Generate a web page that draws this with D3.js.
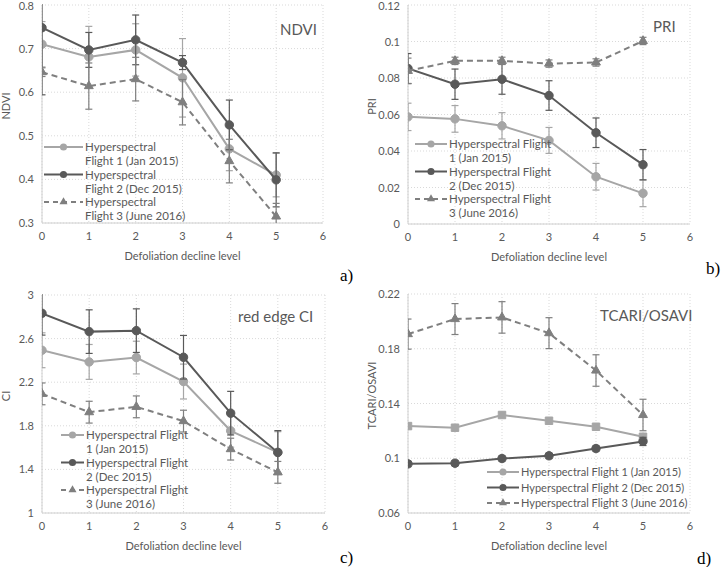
<!DOCTYPE html>
<html>
<head>
<meta charset="utf-8">
<script src="https://cdn.jsdelivr.net/npm/d3@7"></script>
<style>
  body { margin: 0; background: #fff; }
  svg text { font-family: Lato, "Open Sans", sans-serif; fill: #595959; }
</style>
</head>
<body>
<svg id="chart" width="721" height="567"></svg>
<script>
// defoliation levels on the x axis
var levels = [0, 1, 2, 3, 4, 5];
var xTicks = [0, 1, 2, 3, 4, 5, 6];

// a) NDVI
var ndviF1 = [0.710, 0.681, 0.697, 0.633, 0.470, 0.410];
var ndviF1Err = [0.052, 0.070, 0.060, 0.090, 0.050, 0.050];
var ndviF2 = [0.748, 0.697, 0.720, 0.668, 0.525, 0.399];
var ndviF2Err = [0.154, 0.040, 0.057, 0.016, 0.057, 0.062];
var ndviF3 = [0.646, 0.614, 0.630, 0.577, 0.442, 0.315];
var ndviF3Err = [0.010, 0.053, 0.050, 0.052, 0.050, 0.030];

// b) PRI
var priF1 = [0.0587, 0.0576, 0.0538, 0.0458, 0.0259, 0.0168];
var priF1Err = [0.0075, 0.0073, 0.0072, 0.0071, 0.0073, 0.0073];
var priF2 = [0.0852, 0.0766, 0.0793, 0.0704, 0.0500, 0.0325];
var priF2Err = [0.0082, 0.0083, 0.0082, 0.0081, 0.0081, 0.0083];
var priF3 = [0.0839, 0.0894, 0.0894, 0.0879, 0.0885, 0.1003];
var priF3Err = [0.0070, 0.0020, 0.0020, 0.0020, 0.0020, 0.0020];

// c) red edge CI
var ciF1 = [2.493, 2.386, 2.426, 2.206, 1.754, 1.556];
var ciF1Err = [0.160, 0.160, 0.150, 0.160, 0.150, 0.190];
var ciF2 = [2.832, 2.664, 2.673, 2.429, 1.916, 1.556];
var ciF2Err = [0.200, 0.200, 0.200, 0.200, 0.200, 0.200];
var ciF3 = [2.093, 1.925, 1.974, 1.843, 1.586, 1.373];
var ciF3Err = [0.100, 0.100, 0.100, 0.100, 0.100, 0.100];

// d) TCARI/OSAVI
var tcF1 = [0.1235, 0.1223, 0.1316, 0.1274, 0.1230, 0.1157];
var tcF1Err = [0.0020, 0.0020, 0.0020, 0.0020, 0.0020, 0.0020];
var tcF2 = [0.0959, 0.0964, 0.0998, 0.1018, 0.1071, 0.1123];
var tcF2Err = [0.0020, 0.0020, 0.0020, 0.0020, 0.0020, 0.0030];
var tcF3 = [0.1907, 0.2017, 0.2029, 0.1914, 0.1641, 0.1316];
var tcF3Err = [0.0110, 0.0113, 0.0115, 0.0113, 0.0115, 0.0115];

// series look
var seriesStyle = [
  {color: "#a6a6a6", dash: null, marker: "circle"},
  {color: "#595959", dash: null, marker: "circle"},
  {color: "#7f7f7f", dash: "6,4", marker: "triangle"}
];

var svg = d3.select("#chart");

function drawPanel(p) {
  var g = svg.append("g");
  var x = d3.scaleLinear().domain([0, 6]).range([p.left, p.right]);
  var y = d3.scaleLinear().domain(p.yDomain).range([p.bottom, p.top]);

  // dotted grid
  g.selectAll(".hgrid").data(p.yTicks).enter().append("line")
    .attr("x1", p.left).attr("x2", p.right)
    .attr("y1", d => y(d)).attr("y2", d => y(d))
    .style("stroke", "#d9d9d9").style("stroke-dasharray", "1,2");
  g.selectAll(".vgrid").data(xTicks).enter().append("line")
    .attr("y1", p.top).attr("y2", p.bottom)
    .attr("x1", d => x(d)).attr("x2", d => x(d))
    .style("stroke", "#d9d9d9").style("stroke-dasharray", "1,2");

  // axis lines
  g.append("line").attr("x1", p.left).attr("x2", p.left)
    .attr("y1", p.top).attr("y2", p.bottom).style("stroke", "#d0d0d0");
  g.append("line").attr("x1", p.left).attr("x2", p.right)
    .attr("y1", p.bottom).attr("y2", p.bottom).style("stroke", "#d0d0d0");

  // tick labels
  var fmt = d => String(+d.toFixed(3));
  g.selectAll(".ylab").data(p.yTicks).enter().append("text")
    .attr("x", p.left - 8).attr("y", d => Math.max(y(d) + 4, 10))
    .attr("text-anchor", "end").style("font-size", "11px")
    .text(fmt);
  g.selectAll(".xlab").data(xTicks).enter().append("text")
    .attr("x", d => x(d)).attr("y", p.bottom + 17)
    .attr("text-anchor", "middle").style("font-size", "11px")
    .text(d => d);

  // axis titles
  g.append("text")
    .attr("x", (p.left + p.right) / 2).attr("y", p.bottom + 37)
    .attr("text-anchor", "middle").style("font-size", "11px")
    .text("Defoliation decline level");
  g.append("text")
    .attr("transform", "translate(" + (p.left - 32) + "," + ((p.top + p.bottom) / 2 - 8) + ") rotate(-90)")
    .attr("text-anchor", "middle").style("font-size", "11px")
    .text(p.yTitle);

  // chart title inside plot
  g.append("text")
    .attr("x", p.titleX).attr("y", p.titleY)
    .style("font-size", "15px")
    .text(p.title);

  // panel letter
  g.append("text")
    .attr("x", p.letterX).attr("y", p.letterY)
    .style("font-family", "'Liberation Serif', serif").style("fill", "#000")
    .style("font-size", "17px")
    .text(p.letter);

  var clipId = "clip-" + p.letter.replace(")", "");
  svg.append("defs").append("clipPath").attr("id", clipId)
    .append("rect").attr("x", p.left).attr("y", p.top - 1)
    .attr("width", p.right - p.left).attr("height", p.bottom - p.top + 1);
  var plot = g.append("g").attr("clip-path", "url(#" + clipId + ")");

  var line = d3.line().x((d, i) => x(levels[i])).y(d => y(d));

  p.series.forEach(function(s, k) {
    var st = seriesStyle[k];
    // error bars
    s.values.forEach(function(v, i) {
      var cx = x(levels[i]);
      var e = s.err[i];
      plot.append("line").attr("x1", cx).attr("x2", cx)
        .attr("y1", y(v - e)).attr("y2", y(v + e))
        .style("stroke", st.color).style("stroke-width", 1.2);
      [v - e, v + e].forEach(function(c) {
        plot.append("line").attr("x1", cx - 3.5).attr("x2", cx + 3.5)
          .attr("y1", y(c)).attr("y2", y(c))
          .style("stroke", st.color).style("stroke-width", 1.2);
      });
    });
    plot.append("path").datum(s.values)
      .attr("d", line)
      .style("fill", "none").style("stroke", st.color)
      .style("stroke-width", 2)
      .style("stroke-dasharray", st.dash);
    var shape = (k === 0 && p.squareF1) ? d3.symbolSquare :
      (st.marker === "triangle" ? d3.symbolTriangle : d3.symbolCircle);
    var size = st.marker === "triangle" ? 34 : 56;
    plot.selectAll(".m" + k).data(s.values).enter().append("path")
      .attr("d", d3.symbol().type(shape).size(size))
      .attr("transform", (d, i) => "translate(" + x(levels[i]) + "," + y(d) + ")")
      .style("fill", st.color).style("stroke", st.color);
  });

  // legend
  var lg = g.append("g");
  p.legendLabels.forEach(function(lines, k) {
    var st = seriesStyle[k];
    var ly = p.legendY + k * p.legendStep;
    lg.append("line").attr("x1", p.legendX).attr("x2", p.legendX + p.legendLen)
      .attr("y1", ly).attr("y2", ly)
      .style("stroke", st.color).style("stroke-width", 2)
      .style("stroke-dasharray", st.dash ? "5,4" : null);
    lg.append("path")
      .attr("d", d3.symbol().type(st.marker === "triangle" ? d3.symbolTriangle : d3.symbolCircle)
        .size(st.marker === "triangle" ? 28 : 40))
      .attr("transform", "translate(" + (p.legendX + p.legendLen / 2) + "," + ly + ")")
      .style("fill", st.color);
    var t = lg.append("text").attr("x", p.legendX + p.legendLen + 2).attr("y", ly + 4)
      .style("font-size", p.legendFont);
    lines.forEach(function(txt, j) {
      t.append("tspan").attr("x", p.legendX + p.legendLen + 2)
        .attr("dy", j === 0 ? 0 : 14).text(txt);
    });
  });
}

drawPanel({
  left: 42, right: 323, top: 5, bottom: 223,
  yDomain: [0.3, 0.8], yTicks: [0.3, 0.4, 0.5, 0.6, 0.7, 0.8], yTitle: "NDVI",
  title: "NDVI", titleX: 280, titleY: 35, letter: "a)", letterX: 340, letterY: 281,
  series: [{values: ndviF1, err: ndviF1Err}, {values: ndviF2, err: ndviF2Err}, {values: ndviF3, err: ndviF3Err}],
  legendX: 44, legendLen: 39, legendY: 147, legendStep: 27.5, legendFont: "11.5px",
  legendLabels: [["Hyperspectral", "Flight 1 (Jan 2015)"], ["Hyperspectral", "Flight 2 (Dec 2015)"], ["Hyperspectral", "Flight 3 (June 2016)"]]
});

drawPanel({
  left: 408, right: 690, top: 5, bottom: 224,
  yDomain: [0, 0.12], yTicks: [0, 0.02, 0.04, 0.06, 0.08, 0.1, 0.12], yTitle: "PRI",
  title: "PRI", titleX: 653, titleY: 32, letter: "b)", letterX: 706, letterY: 274,
  series: [{values: priF1, err: priF1Err}, {values: priF2, err: priF2Err}, {values: priF3, err: priF3Err}],
  legendX: 415, legendLen: 32, legendY: 144, legendStep: 27.5, legendFont: "11.5px",
  legendLabels: [["Hyperspectral Flight", "1 (Jan 2015)"], ["Hyperspectral Flight", "2 (Dec 2015)"], ["Hyperspectral Flight", "3 (June 2016)"]]
});

drawPanel({
  left: 42, right: 325, top: 295, bottom: 513,
  yDomain: [1, 3], yTicks: [1, 1.4, 1.8, 2.2, 2.6, 3], yTitle: "CI",
  title: "red edge CI", titleX: 238, titleY: 322, letter: "c)", letterX: 340, letterY: 563,
  series: [{values: ciF1, err: ciF1Err}, {values: ciF2, err: ciF2Err}, {values: ciF3, err: ciF3Err}],
  legendX: 61, legendLen: 23, legendY: 435, legendStep: 27.5, legendFont: "11.5px",
  legendLabels: [["Hyperspectral Flight", "1 (Jan 2015)"], ["Hyperspectral Flight", "2 (Dec 2015)"], ["Hyperspectral Flight", "3 (June 2016)"]]
});

drawPanel({
  left: 408, right: 690, top: 294, bottom: 513,
  yDomain: [0.06, 0.22], yTicks: [0.06, 0.1, 0.14, 0.18, 0.22], yTitle: "TCARI/OSAVI",
  title: "TCARI/OSAVI", titleX: 600, titleY: 321, letter: "d)", letterX: 697, letterY: 564,
  squareF1: true,
  series: [{values: tcF1, err: tcF1Err}, {values: tcF2, err: tcF2Err}, {values: tcF3, err: tcF3Err}],
  legendX: 487, legendLen: 32, legendY: 472, legendStep: 15.5, legendFont: "11px",
  legendLabels: [["Hyperspectral Flight 1 (Jan 2015)"], ["Hyperspectral Flight 2 (Dec 2015)"], ["Hyperspectral Flight 3 (June 2016)"]]
});
</script>
</body>
</html>
